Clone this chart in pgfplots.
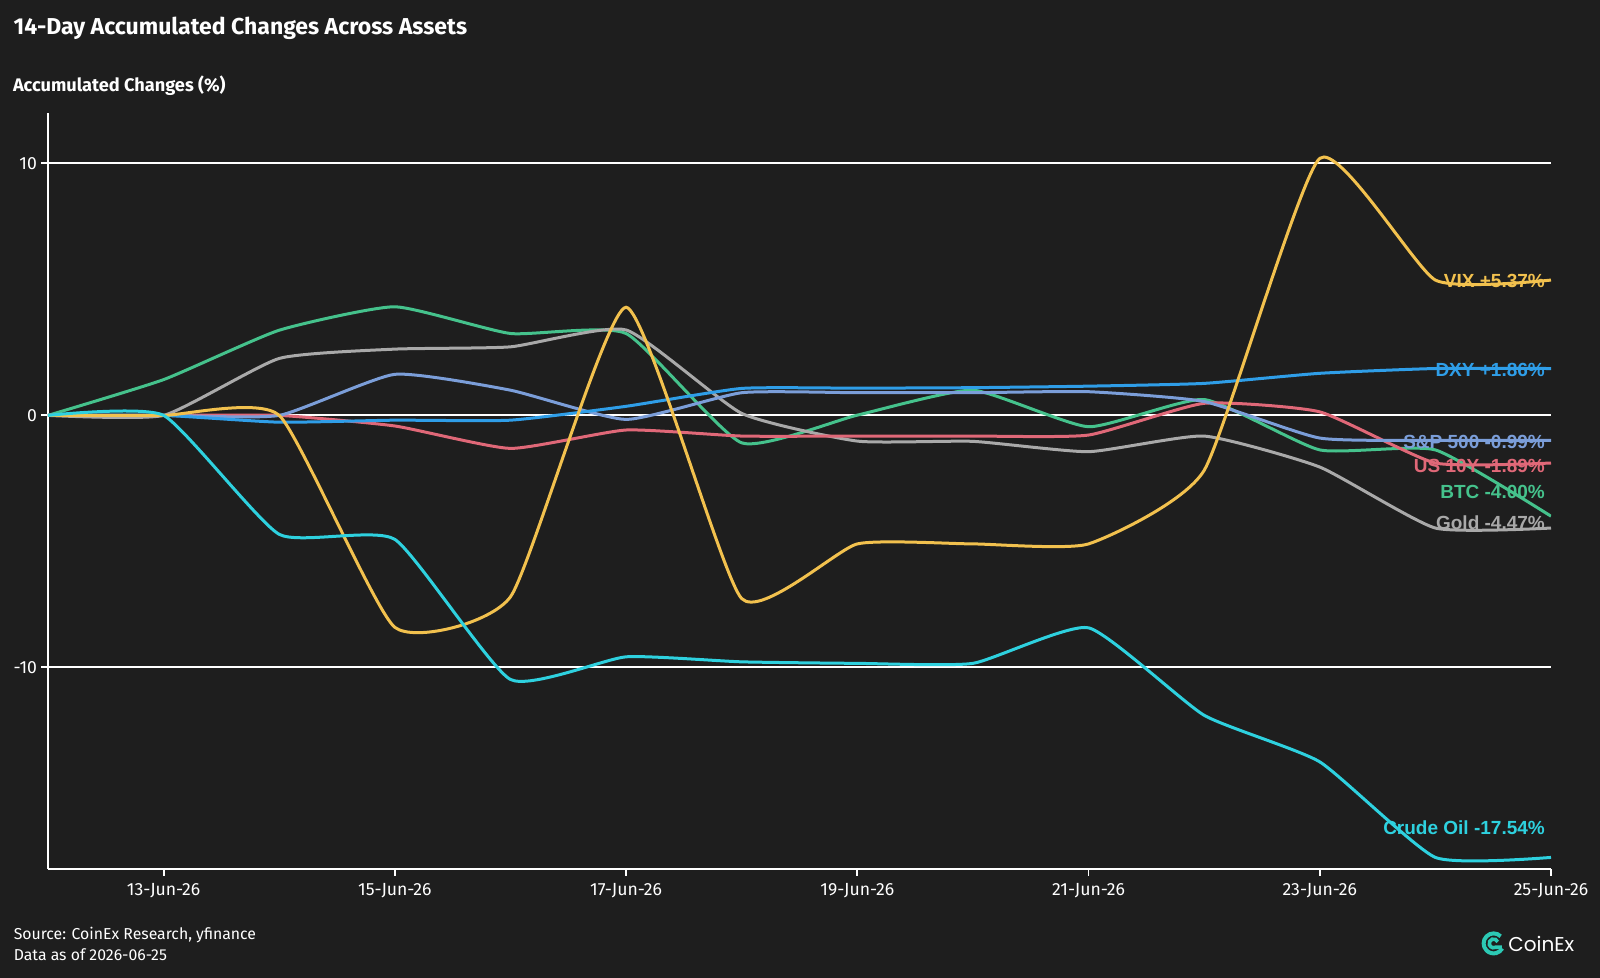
\documentclass[border=0pt]{standalone}
\usepackage{pgfplots}
\usepackage{pgfplotstable}
\pgfplotsset{compat=1.18}
\usepackage{fontspec}
\setmainfont{Fira Sans}
\newfontfamily\labfont{Liberation Sans}
\newfontfamily\logofont{Poppins}
\definecolor{bg}{HTML}{1E1E1E}
\definecolor{cbtc}{HTML}{45C28C}
\definecolor{cgold}{HTML}{A9A9A9}
\definecolor{csp}{HTML}{7B9ED9}
\definecolor{cus}{HTML}{E06878}
\definecolor{cdxy}{HTML}{2F9EE8}
\definecolor{cvix}{HTML}{F2C14E}
\definecolor{ccrude}{HTML}{2ED1DF}
\definecolor{clogo}{HTML}{2CC9B4}
\pgfplotstableread{
d btc gold sp us dxy vix crude
0 0 0 0 0 0 0 0
1 1.42 0 0 0 0 0 0
2 3.38 2.26 0 0 -0.27 0 -4.72
3 4.31 2.63 1.63 -0.42 -0.19 -8.41 -4.92
4 3.25 2.72 1.00 -1.31 -0.19 -7.20 -10.48
5 3.25 3.39 -0.16 -0.58 0.36 4.29 -9.58
6 -1.09 0.08 0.90 -0.82 1.07 -7.27 -9.78
7 0.01 -1.02 0.90 -0.82 1.08 -5.10 -9.84
8 1.00 -1.03 0.90 -0.82 1.10 -5.10 -9.84
9 -0.45 -1.44 0.94 -0.78 1.16 -5.10 -8.43
10 0.63 -0.82 0.55 0.48 1.27 -2.18 -11.90
11 -1.37 -2.05 -0.90 0.14 1.67 10.20 -13.75
12 -1.37 -4.47 -0.99 -1.89 1.86 5.37 -17.54
13 -4.00 -4.47 -0.99 -1.89 1.86 5.37 -17.54
}\data
\begin{document}
\begin{tikzpicture}
\fill[bg] (0,0) rectangle (800pt,489pt);
\path[use as bounding box] (0,0) rectangle (800pt,489pt);
\node[anchor=base west, inner sep=0, text=white, font=\fontsize{11.5}{13}\selectfont\bfseries] at (6.6pt,471.8pt) {14-Day Accumulated Changes Across Assets};
\node[anchor=base west, inner sep=0, text=white, font=\fontsize{9.1}{10}\selectfont\bfseries] at (6.3pt,443.2pt) {Accumulated Changes (\%)};
\node[anchor=base west, inner sep=0, text=white, font=\fontsize{7.9}{10}\selectfont] at (6.7pt,19pt) {Source: CoinEx Research, yfinance};
\node[anchor=base west, inner sep=0, text=white, font=\fontsize{7.9}{10}\selectfont] at (6.7pt,8.7pt) {Data as of 2026-06-25};
% logo
\draw[clogo, line width=2pt] (746.8pt,17.3pt) ++(45:5pt) arc[start angle=45, end angle=330, radius=5pt];
\draw[clogo, line width=1.8pt] (746.8pt,17.3pt) ++(20:2.2pt) arc[start angle=20, end angle=300, radius=2.2pt] -- ++(0:3pt);
\node[anchor=base west, inner sep=0, text=white, font=\logofont\fontsize{10}{12}\selectfont] at (754pt,13pt) {CoinEx};
\begin{axis}[
  at={(24pt,54.5pt)}, anchor=south west, scale only axis,
  width=751.5pt, height=378pt,
  xmin=0, xmax=13, ymin=-18, ymax=12,
  axis x line*=bottom, axis y line*=left,
  axis line style={white, line width=0.9pt, -},
  xtick={1,3,5,7,9,11,13},
  xticklabels={13-Jun-26,15-Jun-26,17-Jun-26,19-Jun-26,21-Jun-26,23-Jun-26,25-Jun-26},
  ytick={-10,0,10}, yticklabels={-10,0,10},
  ymajorgrids, grid style={white, line width=0.9pt},
  tick style={white, line width=0.9pt},
  tick align=outside, major tick length=3.5pt,
  tick label style={text=white, font=\fontsize{8.8}{10}\selectfont},
  yticklabel style={xshift=1.5pt},
  clip mode=individual,
  every axis plot/.append style={line width=1.5pt, smooth, tension=0.3},
]
\addplot[cbtc] table[x=d,y=btc]{\data};
\addplot[cgold] table[x=d,y=gold]{\data};
\addplot[cus] table[x=d,y=us]{\data};
\addplot[csp] table[x=d,y=sp]{\data};
\addplot[cdxy] table[x=d,y=dxy]{\data};
\addplot[cvix] table[x=d,y=vix]{\data};
\addplot[ccrude] table[x=d,y=crude]{\data};
\tikzset{lab/.style={anchor=base east, inner sep=0, font=\labfont\bfseries\fontsize{9.5}{11}\selectfont}}
\node[lab, text=cvix] at (axis cs:12.95,5.06) {VIX +5.37\%};
\node[lab, text=cdxy] at (axis cs:12.95,1.56) {DXY +1.86\%};
\node[lab, text=csp] at (axis cs:12.95,-1.31) {S\&P 500 -0.99\%};
\node[lab, text=cus] at (axis cs:12.95,-2.28) {US 10Y -1.89\%};
\node[lab, text=cbtc] at (axis cs:12.95,-3.29) {BTC -4.00\%};
\node[lab, text=cgold] at (axis cs:12.95,-4.52) {Gold -4.47\%};
\node[lab, text=ccrude] at (axis cs:12.95,-16.63) {Crude Oil -17.54\%};
\end{axis}
\end{tikzpicture}
\end{document}
